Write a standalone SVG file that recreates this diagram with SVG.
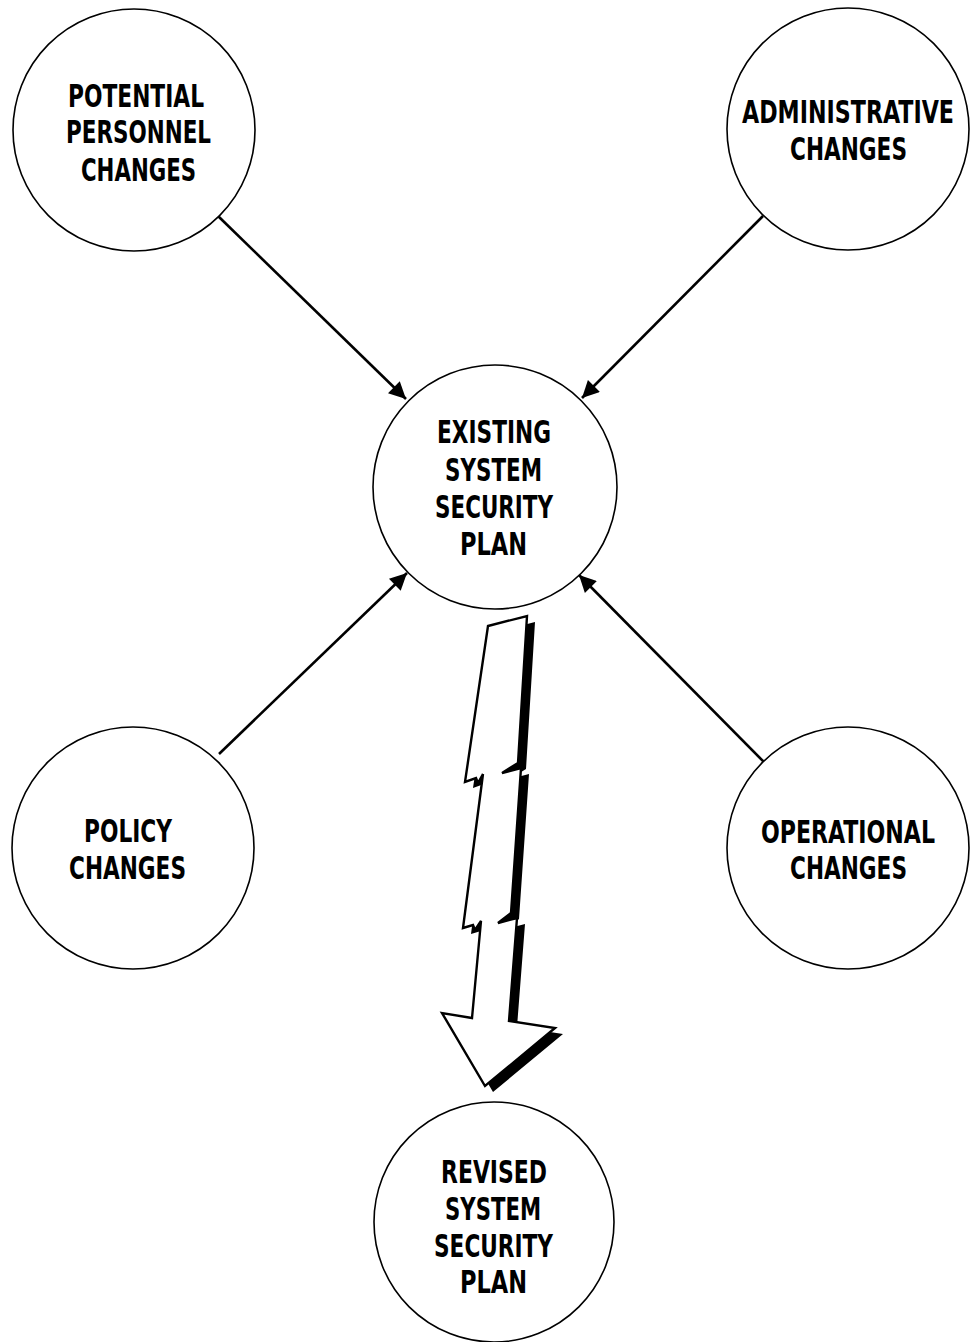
<svg xmlns="http://www.w3.org/2000/svg" width="973" height="1342" viewBox="0 0 973 1342">
<defs>
<style>
.node circle{fill:#fff;stroke:#000;stroke-width:1.6}
.node text{font-family:"DejaVu Sans Condensed","DejaVu Sans",sans-serif;font-weight:bold;font-size:32px;fill:#000;text-anchor:start}
.conn line{stroke:#000;stroke-width:2.6}
</style>
<marker id="ah" viewBox="0 0 10 10" refX="10" refY="5" markerWidth="8.5" markerHeight="6.5" markerUnits="strokeWidth" orient="auto">
<path d="M0,0 L10,5 L0,10 z" fill="#000"/>
</marker>
</defs>
<rect width="973" height="1342" fill="#fff"/>
<g id="connectors" class="conn">
<line x1="218" y1="216" x2="406" y2="399" marker-end="url(#ah)"/>
<line x1="763" y1="216" x2="582" y2="398" marker-end="url(#ah)"/>
<line x1="219" y1="754" x2="407" y2="573" marker-end="url(#ah)"/>
<line x1="764" y1="762" x2="579" y2="575" marker-end="url(#ah)"/>
<g id="bolt">
<polygon transform="translate(8,6)" fill="#000" points="488,626 527,616 518,763 502,773 521,768 511,913 498,923 517,918 509,1021 555,1028 485,1086 442,1013 472,1018 481,921 475,930 473,925 463,928 483,774 478,783 476,778 465,782"/>
<polygon fill="#fff" stroke="#000" stroke-width="2.4" stroke-linejoin="miter" points="488,626 527,616 518,763 502,773 521,768 511,913 498,923 517,918 509,1021 555,1028 485,1086 442,1013 472,1018 481,921 475,930 473,925 463,928 483,774 478,783 476,778 465,782"/>
</g>
</g>
<g id="potential-personnel" class="node">
<circle cx="134" cy="130" r="121"/>
<text x="68" y="107" textLength="136" lengthAdjust="spacingAndGlyphs">POTENTIAL</text>
<text x="66" y="143" textLength="145" lengthAdjust="spacingAndGlyphs">PERSONNEL</text>
<text x="81" y="181" textLength="115" lengthAdjust="spacingAndGlyphs">CHANGES</text>
</g>
<g id="administrative" class="node">
<circle cx="848" cy="129" r="121"/>
<text x="742" y="123" textLength="212" lengthAdjust="spacingAndGlyphs">ADMINISTRATIVE</text>
<text x="790" y="160" textLength="117" lengthAdjust="spacingAndGlyphs">CHANGES</text>
</g>
<g id="existing" class="node">
<circle cx="495" cy="487" r="122"/>
<text x="437" y="443" textLength="114" lengthAdjust="spacingAndGlyphs">EXISTING</text>
<text x="445" y="481" textLength="97" lengthAdjust="spacingAndGlyphs">SYSTEM</text>
<text x="435" y="518" textLength="118" lengthAdjust="spacingAndGlyphs">SECURITY</text>
<text x="460" y="555" textLength="67" lengthAdjust="spacingAndGlyphs">PLAN</text>
</g>
<g id="policy" class="node">
<circle cx="133" cy="848" r="121"/>
<text x="84" y="842" textLength="88" lengthAdjust="spacingAndGlyphs">POLICY</text>
<text x="69" y="879" textLength="117" lengthAdjust="spacingAndGlyphs">CHANGES</text>
</g>
<g id="operational" class="node">
<circle cx="848" cy="848" r="121"/>
<text x="761" y="843" textLength="174" lengthAdjust="spacingAndGlyphs">OPERATIONAL</text>
<text x="790" y="879" textLength="117" lengthAdjust="spacingAndGlyphs">CHANGES</text>
</g>
<g id="revised" class="node">
<circle cx="494" cy="1222" r="120"/>
<text x="441" y="1183" textLength="106" lengthAdjust="spacingAndGlyphs">REVISED</text>
<text x="445" y="1220" textLength="96" lengthAdjust="spacingAndGlyphs">SYSTEM</text>
<text x="434" y="1257" textLength="119" lengthAdjust="spacingAndGlyphs">SECURITY</text>
<text x="460" y="1293" textLength="67" lengthAdjust="spacingAndGlyphs">PLAN</text>
</g>
</svg>
